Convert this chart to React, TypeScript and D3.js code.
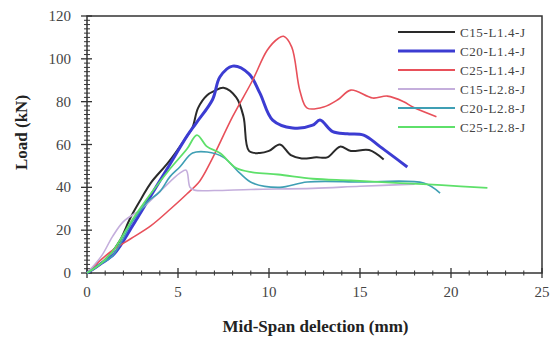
import React, { useEffect, useRef } from 'react';
import * as d3 from 'd3';

// mid-span deflection (mm) / load (kN)
const c15L14x = [0, 0.7, 1.3, 1.8, 2.4, 3.0, 3.5, 4.5, 5.5, 5.8, 6.1, 6.6, 7.0, 7.5, 8.2, 8.6, 8.9, 9.5, 10.0, 10.6, 11.2, 11.8, 12.6, 13.2, 13.9, 14.5, 15.5, 16.3];
const c15L14y = [0, 4, 9, 15, 26, 35, 42, 52, 64, 68, 77, 83, 85, 86.5, 82, 73, 57, 56, 57, 60, 55, 53.5, 54, 54, 59, 57, 57.4, 53];
const c20L14x = [0, 0.7, 1.5, 2.5, 3.5, 4.5, 5.5, 6.0, 6.9, 7.3, 8.0, 8.9, 9.5, 10.2, 11.3, 12.4, 12.8, 13.5, 14.3, 15.2, 16.1, 17.6];
const c20L14y = [0, 4, 9, 22, 36, 50, 64, 70, 81, 91.5, 96.6, 93, 84, 71.4, 67.7, 69, 71.4, 66, 65, 64.4, 59, 49.5];
const c25L14x = [0, 1.3, 2.4, 3.5, 4.6, 5.5, 6.2, 6.8, 8.0, 9.1, 9.9, 10.5, 10.8, 11.25, 11.7, 12.1, 13.0, 13.8, 14.5, 15.7, 16.5, 17.4, 17.9, 19.2];
const c25L14y = [0, 10, 16, 22, 30, 37, 43, 52, 73, 90, 104, 109.5, 110.5, 105.5, 85, 77, 77.5, 81, 85.4, 81.7, 82.6, 80, 77.5, 73];
const c15L28x = [0, 0.8, 1.4, 2.0, 3.0, 4.0, 5.1, 5.45, 5.66, 5.9, 7.0, 9.0, 12.4, 15.0, 18.0];
const c15L28y = [0, 8, 17, 24, 30, 38, 46.6, 48, 40, 38.7, 38.5, 39, 39.5, 40.5, 41.5];
const c20L28x = [0, 0.7, 1.4, 2.5, 3.3, 4.0, 4.56, 5.1, 5.8, 6.6, 7.5, 8.4, 9.1, 10.6, 12.1, 15.0, 18.5, 19.4];
const c20L28y = [0, 4, 8, 24, 33, 38, 45, 49.5, 56, 56.5, 54, 46.6, 42, 40, 42.5, 42.5, 42, 37.3];
const c25L28x = [0, 0.7, 1.4, 2.5, 3.5, 4.5, 5.5, 6.04, 6.6, 7.3, 8.2, 9.1, 10.5, 12.4, 14.5, 17.2, 19.5, 22.0];
const c25L28y = [0, 4, 10, 25, 37, 48, 58, 64.4, 59, 56, 49, 47, 46, 44, 43.2, 42, 41, 39.7];

const seriesNames = ['C15-L1.4-J', 'C20-L1.4-J', 'C25-L1.4-J', 'C15-L2.8-J', 'C20-L2.8-J', 'C25-L2.8-J'];
const seriesX = [c15L14x, c20L14x, c25L14x, c15L28x, c20L28x, c25L28x];
const seriesY = [c15L14y, c20L14y, c25L14y, c15L28y, c20L28y, c25L28y];
const seriesColors = ['#2a2a2a', '#3c3cd2', '#e8505a', '#c4aedc', '#3f9fb4', '#5ee06a'];
const seriesWidths = [2, 3, 1.6, 1.6, 1.6, 1.8];

const xTicks = [0, 5, 10, 15, 20, 25];
const yTicks = [0, 20, 40, 60, 80, 100, 120];

const serif = "'Liberation Serif', 'Times New Roman', 'DejaVu Serif', serif";

function App() {
    const chartRef = useRef<SVGSVGElement>(null);

    useEffect(() => {
        const svg = d3.select(chartRef.current);
        svg.selectAll('*').remove();

        const margin = { top: 16, right: 9, bottom: 70, left: 87 };
        const width = 551 - margin.left - margin.right;
        const height = 343 - margin.top - margin.bottom;

        const g = svg.append('g')
            .attr('transform', 'translate(' + margin.left + ',' + margin.top + ')')
            .attr('font-family', serif);

        const x = d3.scaleLinear().domain([0, 25]).range([0, width]);
        const y = d3.scaleLinear().domain([0, 120]).range([height, 0]);

        // frame
        g.append('rect')
            .attr('width', width).attr('height', height)
            .attr('fill', 'none').attr('stroke', '#333').attr('stroke-width', 1.5);

        // minor ticks
        g.selectAll('.xminor')
            .data(d3.range(0, 26, 1).filter((d) => d % 5 !== 0))
            .enter().append('line')
            .attr('x1', (d) => x(d)).attr('x2', (d) => x(d))
            .attr('y1', height - 2.5).attr('y2', height + 2.5)
            .attr('stroke', '#333').attr('stroke-width', 1);
        g.selectAll('.yminor')
            .data(d3.range(0, 121, 2).filter((d) => d % 20 !== 0))
            .enter().append('line')
            .attr('x1', -3).attr('x2', 3)
            .attr('y1', (d) => y(d)).attr('y2', (d) => y(d))
            .attr('stroke', '#333').attr('stroke-width', 1);

        // major ticks
        g.selectAll('.xmajor').data(xTicks).enter().append('line')
            .attr('x1', (d) => x(d)).attr('x2', (d) => x(d))
            .attr('y1', height - 5).attr('y2', height + 5)
            .attr('stroke', '#333').attr('stroke-width', 1.3);
        g.selectAll('.ymajor').data(yTicks).enter().append('line')
            .attr('x1', -6).attr('x2', 5)
            .attr('y1', (d) => y(d)).attr('y2', (d) => y(d))
            .attr('stroke', '#333').attr('stroke-width', 1.3);

        // tick labels
        g.selectAll('.xlab').data(xTicks).enter().append('text')
            .attr('x', (d) => x(d)).attr('y', height + 24)
            .attr('text-anchor', 'middle')
            .attr('font-family', serif).attr('font-size', 15)
            .attr('fill', '#444')
            .text((d) => d);
        g.selectAll('.ylab').data(yTicks).enter().append('text')
            .attr('x', -16).attr('y', (d) => y(d) + 5)
            .attr('text-anchor', 'end')
            .attr('font-family', serif).attr('font-size', 15)
            .attr('fill', '#444')
            .text((d) => d);

        // curves
        const line = d3.line<[number, number]>()
            .x((d) => x(d[0]))
            .y((d) => y(d[1]))
            .curve(d3.curveCatmullRom.alpha(0.5));

        seriesNames.forEach((name, i) => {
            const pts: [number, number][] = seriesX[i].map((v, j) => [v, seriesY[i][j]]);
            g.append('path')
                .datum(pts)
                .attr('fill', 'none')
                .attr('stroke', seriesColors[i])
                .attr('stroke-width', seriesWidths[i])
                .attr('stroke-linejoin', 'round')
                .attr('d', line);
        });

        // legend
        const legend = g.append('g').attr('transform', 'translate(311,16)');
        seriesNames.forEach((name, i) => {
            legend.append('line')
                .attr('x1', 0).attr('x2', 57)
                .attr('y1', i * 19).attr('y2', i * 19)
                .attr('stroke', seriesColors[i])
                .attr('stroke-width', i === 1 ? 3 : 2);
            legend.append('text')
                .attr('x', 62).attr('y', i * 19 + 4.5)
                .attr('font-family', serif).attr('font-size', 13)
                .attr('letter-spacing', 0.6)
                .attr('fill', '#444')
                .text(name);
        });

        // axis titles
        g.append('text')
            .attr('x', width / 2 + 1).attr('y', height + 59)
            .attr('text-anchor', 'middle')
            .attr('font-family', serif).attr('font-size', 17)
            .attr('font-weight', 'bold')
            .attr('fill', '#222')
            .text('Mid-Span delection (mm)');
        g.append('text')
            .attr('transform', 'translate(' + (-60) + ',' + (height / 2 - 12) + ') rotate(-90)')
            .attr('text-anchor', 'middle')
            .attr('font-family', serif).attr('font-size', 17)
            .attr('font-weight', 'bold')
            .attr('fill', '#222')
            .text('Load (kN)');
    }, []);

    return (
        <div style={{ position: 'absolute', left: 0, top: 0 }}>
            <svg ref={chartRef} width={551} height={343} style={{ display: 'block', background: 'white' }}></svg>
        </div>
    );
}

export default App;
